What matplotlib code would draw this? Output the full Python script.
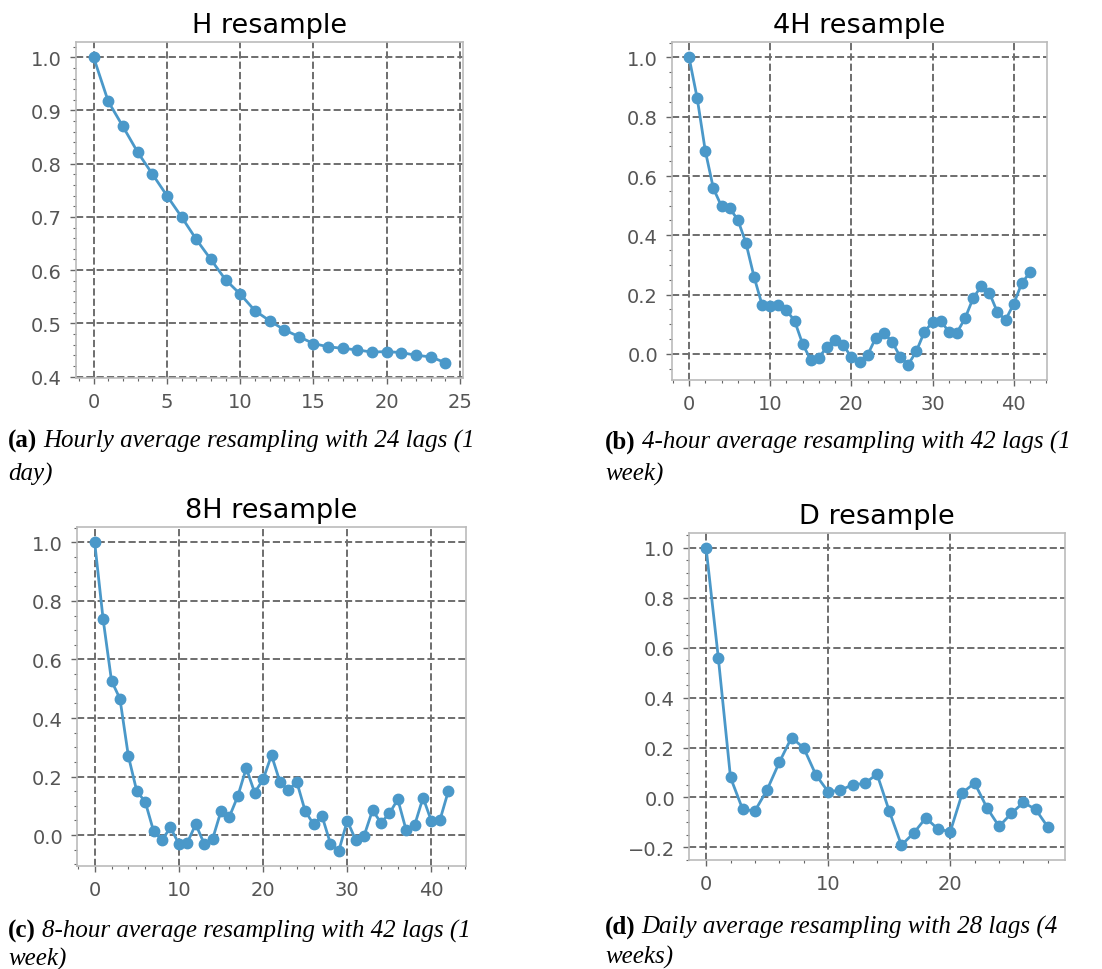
import matplotlib
matplotlib.use("Agg")
import matplotlib.pyplot as plt
from matplotlib.ticker import AutoMinorLocator
import numpy as np

# Autocorrelation values per resampling frequency
acf_hourly = [1.000, 0.917, 0.870, 0.822, 0.781, 0.740, 0.700, 0.658, 0.620,
              0.582, 0.555, 0.524, 0.505, 0.488, 0.475, 0.462, 0.456, 0.453,
              0.450, 0.446, 0.447, 0.445, 0.440, 0.437, 0.426]

acf_4h = [1.000, 0.863, 0.685, 0.558, 0.498, 0.491, 0.453, 0.375, 0.261,
          0.165, 0.163, 0.165, 0.147, 0.112, 0.033, -0.020, -0.012, 0.024,
          0.047, 0.030, -0.011, -0.028, -0.003, 0.054, 0.070, 0.042, -0.009,
          -0.036, 0.009, 0.075, 0.107, 0.112, 0.075, 0.072, 0.120, 0.188,
          0.229, 0.206, 0.140, 0.115, 0.169, 0.239, 0.275]

acf_8h = [1.000, 0.738, 0.527, 0.466, 0.270, 0.150, 0.114, 0.013, -0.017,
          0.026, -0.030, -0.026, 0.037, -0.029, -0.014, 0.082, 0.063, 0.133,
          0.229, 0.145, 0.190, 0.273, 0.182, 0.153, 0.182, 0.082, 0.037,
          0.065, -0.029, -0.053, 0.049, -0.017, -0.002, 0.085, 0.042, 0.074,
          0.122, 0.016, 0.034, 0.128, 0.047, 0.051, 0.150]

acf_daily = [1.000, 0.560, 0.080, -0.048, -0.054, 0.031, 0.141, 0.240, 0.198,
             0.090, 0.023, 0.029, 0.051, 0.056, 0.094, -0.054, -0.191, -0.143,
             -0.082, -0.127, -0.137, 0.019, 0.058, -0.041, -0.116, -0.064,
             -0.020, -0.048, -0.119]

titles = ["H resample", "4H resample", "8H resample", "D resample"]
tags = ["(a)", "(b)", "(c)", "(d)"]
captions = [
    ["Hourly average resampling with 24 lags (1", "day)"],
    ["4-hour average resampling with 42 lags (1", "week)"],
    ["8-hour average resampling with 42 lags (1", "week)"],
    ["Daily average resampling with 28 lags (4", "weeks)"],
]
series = [acf_hourly, acf_4h, acf_8h, acf_daily]

W, H = 1102, 970
fig = plt.figure(figsize=(W / 100, H / 100), dpi=100)

# axes boxes in pixels: left, right, top, bottom
boxes = [(76, 463, 43, 379), (672, 1047, 43, 381),
         (77, 466, 528, 867), (689, 1065, 534, 861)]

LINE_COLOR = "#4a98c9"
TICK_GRAY = "#555555"

for vals, title, (l, r, t, b) in zip(series, titles, boxes):
    ax = fig.add_axes([l / W, 1 - b / H, (r - l) / W, (b - t) / H])
    lags = np.arange(len(vals))
    ax.plot(lags, vals, color=LINE_COLOR, lw=2.0, marker="o", ms=7.5,
            zorder=3)
    ax.set_title(title, fontsize=19.5, pad=7)
    ax.grid(True, which="major", linestyle="--", color="#6e6e6e", lw=1.4)
    ax.set_axisbelow(True)
    ax.xaxis.set_minor_locator(AutoMinorLocator())
    ax.yaxis.set_minor_locator(AutoMinorLocator())
    ax.tick_params(which="major", direction="out", length=4, width=1,
                   color="#666666", labelsize=14, labelcolor=TICK_GRAY, pad=6)
    ax.tick_params(which="minor", direction="out", length=2.5, width=0.8,
                   color="#666666")
    for sp in ax.spines.values():
        sp.set_color("#bbbbbb")
        sp.set_linewidth(1.2)

# two-line captions: bold tag followed by italic text
cap_pos = [(8, 448, 481), (605, 449, 481), (8, 938, 966), (605, 934, 964)]
serif = "Liberation Serif"
fig.canvas.draw()
renderer = fig.canvas.get_renderer()
for tag, lines, (x, y1, y2) in zip(tags, captions, cap_pos):
    t = fig.text(x / W, 1 - y1 / H, tag, fontsize=18, fontweight="bold",
                 family=serif, va="baseline", ha="left")
    bb = t.get_window_extent(renderer)
    fig.text((bb.x1 + 6) / W, 1 - y1 / H, lines[0], fontsize=18,
             style="italic", family=serif, va="baseline", ha="left")
    fig.text(x / W, 1 - y2 / H, lines[1], fontsize=18, style="italic",
             family=serif, va="baseline", ha="left")

fig.savefig("out.png", dpi=100)
